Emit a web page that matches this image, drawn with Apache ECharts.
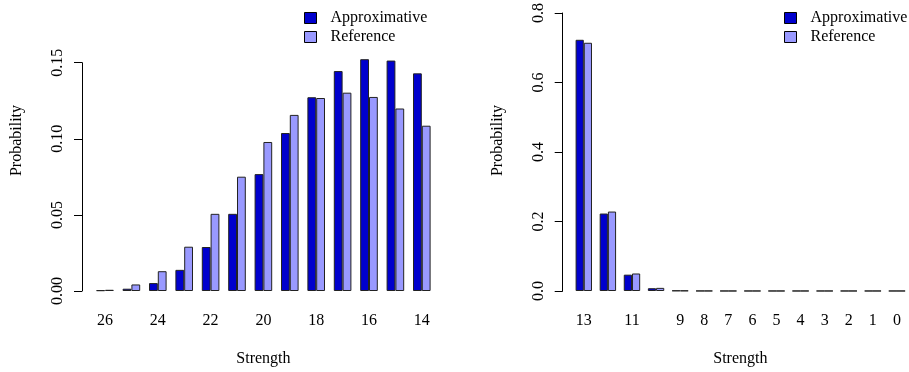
<!DOCTYPE html>
<html>
<head>
<meta charset="utf-8">
<script src="https://cdn.jsdelivr.net/npm/echarts@6/dist/echarts.min.js"></script>
<style>
  html, body { margin: 0; padding: 0; background: #fff; }
  #chart { width: 909px; height: 372px; }
</style>
</head>
<body>
<div id="chart"></div>
<script>
// Strength distributions: approximation vs reference
const leftCategories = ['26', '25', '24', '23', '22', '21', '20', '19', '18', '17', '16', '15', '14'];
const leftApprox = [0.0005, 0.0015, 0.0052, 0.0139, 0.0289, 0.0507, 0.0768, 0.1038, 0.1273, 0.1445, 0.1523, 0.1514, 0.1430];
const leftReference = [0.0008, 0.0043, 0.0130, 0.0291, 0.0507, 0.0751, 0.0979, 0.1157, 0.1268, 0.1303, 0.1275, 0.1199, 0.1086];

const rightCategories = ['13', '12', '11', '10', '9', '8', '7', '6', '5', '4', '3', '2', '1', '0'];
const rightTickLabels = ['13', '', '11', '', '9', '8', '7', '6', '5', '4', '3', '2', '1', '0'];
const rightApprox = [0.7229, 0.2229, 0.0470, 0.0080, 0.0012, 0.0003, 0.0001, 0.0001, 0.0001, 0.0001, 0.0001, 0.0001, 0.0001, 0.0001];
const rightReference = [0.7143, 0.2286, 0.0504, 0.0090, 0.0010, 0.0003, 0.0001, 0.0001, 0.0001, 0.0001, 0.0001, 0.0001, 0.0001, 0.0001];

const seriesNames = ['Approximative', 'Reference'];
const seriesColors = ['#0000CD', '#9999FF'];

const FONT = 'Liberation Serif, Times New Roman, serif';
const FS = 16;

const chart = echarts.init(document.getElementById('chart'), null, { renderer: 'canvas' });

function yAxisDef(gridIndex, max, interval, decimals, offset) {
  return {
    type: 'value', gridIndex: gridIndex, min: 0, max: max, interval: interval, offset: offset,
    splitLine: { show: false },
    axisLine: { show: true, lineStyle: { color: '#000', width: 1 } },
    axisTick: { show: true, length: 8, lineStyle: { color: '#000', width: 1 } },
    axisLabel: {
      rotate: 90, margin: 16, color: '#000', fontFamily: FONT, fontSize: FS,
      formatter: v => v.toFixed(decimals)
    }
  };
}

function xAxisDef(gridIndex, cats, formatter) {
  return {
    type: 'category', gridIndex: gridIndex, data: cats, boundaryGap: true,
    axisLine: { show: false }, axisTick: { show: false }, splitLine: { show: false },
    axisLabel: {
      interval: 0, margin: 22, color: '#000', fontFamily: FONT, fontSize: FS,
      formatter: formatter
    },
    name: 'Strength', nameLocation: 'middle', nameGap: 60,
    nameTextStyle: { color: '#000', fontFamily: FONT, fontSize: FS }
  };
}

function barSeries(name, color, data, axisIndex, width) {
  return {
    name: name, type: 'bar', xAxisIndex: axisIndex, yAxisIndex: axisIndex,
    data: data, barWidth: width, barGap: '0%', clip: false,
    itemStyle: { color: color, borderColor: '#222', borderWidth: 1 },
    emphasis: { disabled: true }, animation: false
  };
}

function legendDef(left, top) {
  return {
    orient: 'vertical', left: left, top: top, padding: 0,
    itemWidth: 12, itemHeight: 11, itemGap: 3,
    icon: 'rect', selectedMode: false,
    itemStyle: { borderColor: '#000', borderWidth: 1 },
    textStyle: { color: '#000', fontFamily: FONT, fontSize: FS, lineHeight: 16, padding: [0, 0, 0, 9] },
    data: seriesNames
  };
}

chart.setOption({
  animation: false,
  backgroundColor: '#fff',
  grid: [
    { left: 91.8, width: 343.2, top: 62.7, height: 229.6 },
    { left: 571.75, width: 343, top: 12.7, height: 279.6 }
  ],
  xAxis: [
    xAxisDef(0, leftCategories, (v, i) => (i % 2 === 0 ? v : '')),
    xAxisDef(1, rightCategories, (v, i) => rightTickLabels[i])
  ],
  yAxis: [
    yAxisDef(0, 0.15, 0.05, 2, 9.8),
    yAxisDef(1, 0.8, 0.2, 1, 9.05)
  ],
  legend: [legendDef(304, 10), legendDef(784, 10)],
  series: [
    barSeries(seriesNames[0], seriesColors[0], leftApprox, 0, 8.8),
    barSeries(seriesNames[1], seriesColors[1], leftReference, 0, 8.8),
    barSeries(seriesNames[0], seriesColors[0], rightApprox, 1, 8.2),
    barSeries(seriesNames[1], seriesColors[1], rightReference, 1, 8.2)
  ],
  graphic: [
    { type: 'text', x: 16.7, y: 140.5, rotation: Math.PI / 2,
      style: { text: 'Probability', fill: '#000', font: FS + 'px ' + FONT, textAlign: 'center', textVerticalAlign: 'middle' } },
    { type: 'text', x: 497.3, y: 140.5, rotation: Math.PI / 2,
      style: { text: 'Probability', fill: '#000', font: FS + 'px ' + FONT, textAlign: 'center', textVerticalAlign: 'middle' } }
  ]
});
</script>
</body>
</html>
